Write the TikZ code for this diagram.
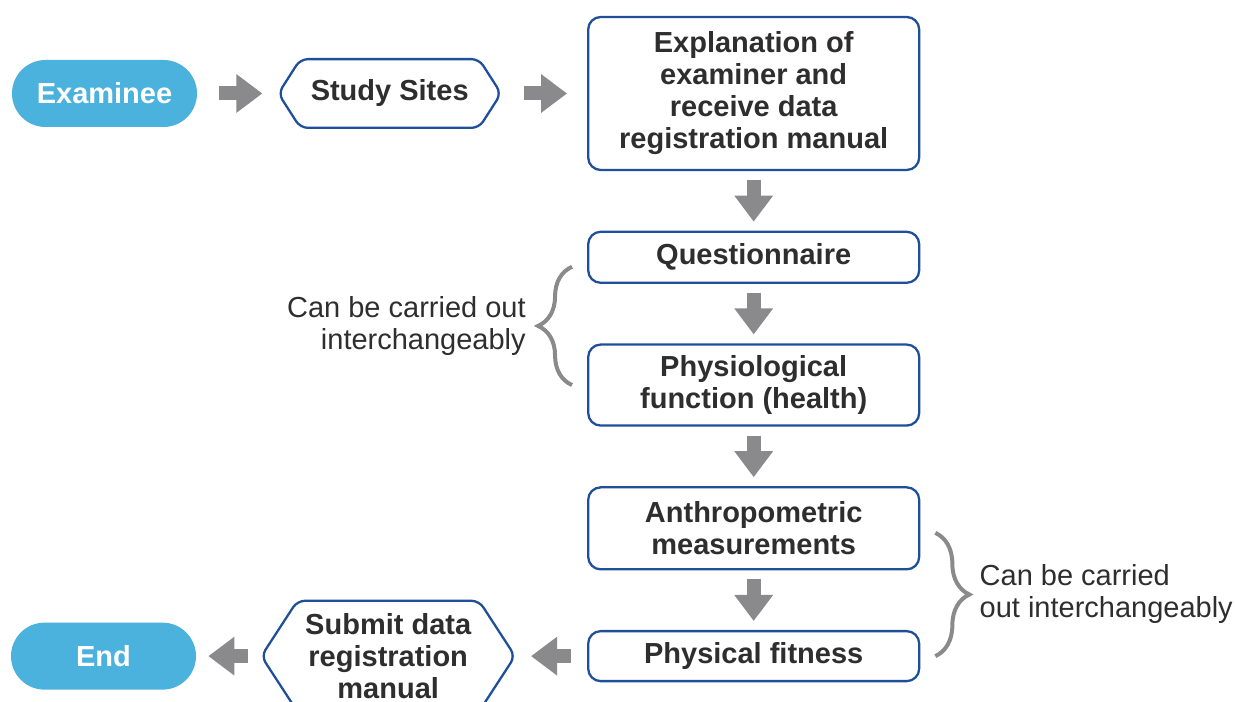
\documentclass[tikz,border=0pt]{standalone}
\usepackage{fontspec}
\setmainfont{Liberation Sans}
\usetikzlibrary{arrows.meta,positioning,calc,decorations.pathreplacing}
\definecolor{skyfill}{HTML}{4BB1DD}
\definecolor{navy}{HTML}{1F4F9A}
\definecolor{ink}{HTML}{2E2E2E}
\definecolor{stone}{HTML}{8A8A8D}

\begin{document}
\begin{tikzpicture}[
  node distance=1.19cm and 1.6cm,
  pill/.style={fill=skyfill,rounded corners=6.7mm,minimum width=3.7cm,minimum height=1.34cm,text=white,font=\bfseries\fontsize{16.5}{18.2}\selectfont},
  stepbox/.style={draw=navy,line width=1.3pt,fill=white,rounded corners=2.5mm,minimum width=6.62cm,text=ink,font=\bfseries\fontsize{16.5}{18.2}\selectfont,align=center},
  hexcell/.style={text=ink,font=\bfseries\fontsize{16.5}{18.2}\selectfont,align=center},
  hexline/.style={draw=navy,line width=1.3pt,rounded corners=1.5mm},
  flow/.style={-{Triangle[length=5.2mm,width=7.4mm]},line width=2.8mm,color=stone},
  bracket/.style={decorate,decoration={brace,amplitude=6.8mm},line width=0.8mm,color=stone},
  note/.style={text=ink,font=\fontsize{16.5}{18.2}\selectfont,inner sep=0pt}
]
\useasboundingbox (0,0) rectangle (24.7,-14.04);
\clip (0,0) rectangle (24.7,-14.04);

% top row
\node[pill] (examinee) at (2.09,-1.87) {Examinee};
\node[hexcell,minimum width=4.44cm,minimum height=1.36cm,right=1.62cm of examinee] (sites) {Study Sites};
\node[stepbox,minimum height=3.06cm,right=1.72cm of sites] (explain) {Explanation of\\examiner and\\receive data\\registration manual};

% column
\node[stepbox,minimum height=1.02cm,below=of explain] (quest) {Questionnaire};
\node[stepbox,minimum height=1.62cm,below=of quest] (physio) {Physiological\\function (health)};
\node[stepbox,minimum height=1.64cm,below=of physio] (anthro) {Anthropometric\\measurements};
\node[stepbox,minimum height=1.0cm,below=of anthro] (fitness) {Physical fitness};

% bottom row
\node[hexcell,minimum width=5.06cm,minimum height=2.2cm,left=1.44cm of fitness] (submit) {Submit data\\registration\\manual};
\node[pill,left=1.3cm of submit] (finish) {End};

% hexagon outlines
\draw[hexline] ([xshift=4.4mm]sites.north west) -- ([xshift=-4.4mm]sites.north east) -- (sites.east)
  -- ([xshift=-4.4mm]sites.south east) -- ([xshift=4.4mm]sites.south west) -- (sites.west) -- cycle;
\draw[hexline] ([xshift=7.2mm]submit.north west) -- ([xshift=-7.2mm]submit.north east) -- (submit.east)
  -- ([xshift=-7.2mm]submit.south east) -- ([xshift=7.2mm]submit.south west) -- (submit.west) -- cycle;

% arrows
\draw[flow,shorten <=4.4mm,shorten >=3.2mm] (examinee) -- (sites);
\draw[flow,shorten <=4.6mm,shorten >=4.0mm] (sites) -- (explain);
\draw[flow,shorten <=1.8mm,shorten >=1.8mm] (explain) -- (quest);
\draw[flow,shorten <=1.8mm,shorten >=1.8mm] (quest) -- (physio);
\draw[flow,shorten <=1.8mm,shorten >=1.8mm] (physio) -- (anthro);
\draw[flow,shorten <=1.8mm,shorten >=1.8mm] (anthro) -- (fitness);
\draw[flow,shorten <=3.2mm,shorten >=3.2mm] (fitness) -- (submit);
\draw[flow,shorten <=2.6mm,shorten >=2.4mm] (submit) -- (finish);

% braces
\coordinate (ltop) at ([xshift=-3mm,yshift=-1.9mm]quest.west);
\coordinate (lbot) at ([xshift=-3mm]physio.west);
\coordinate (rtop) at ([xshift=3mm,yshift=-0.9mm]anthro.east);
\coordinate (rbot) at ([xshift=3mm]fitness.east);
\draw[bracket] (lbot) -- (ltop);
\draw[bracket] (rtop) -- (rbot);
\coordinate (ltip) at ($(lbot)!0.5!(ltop)+(-0.68,0)$);
\coordinate (rtip) at ($(rtop)!0.5!(rbot)+(0.68,0)$);
\node[note,align=right,left=2.4mm of ltip] (lnote) {Can be carried out\\interchangeably};
\node[note,align=left,right=2mm of rtip] (rnote) {Can be carried\\out interchangeably};
\end{tikzpicture}
\end{document}
